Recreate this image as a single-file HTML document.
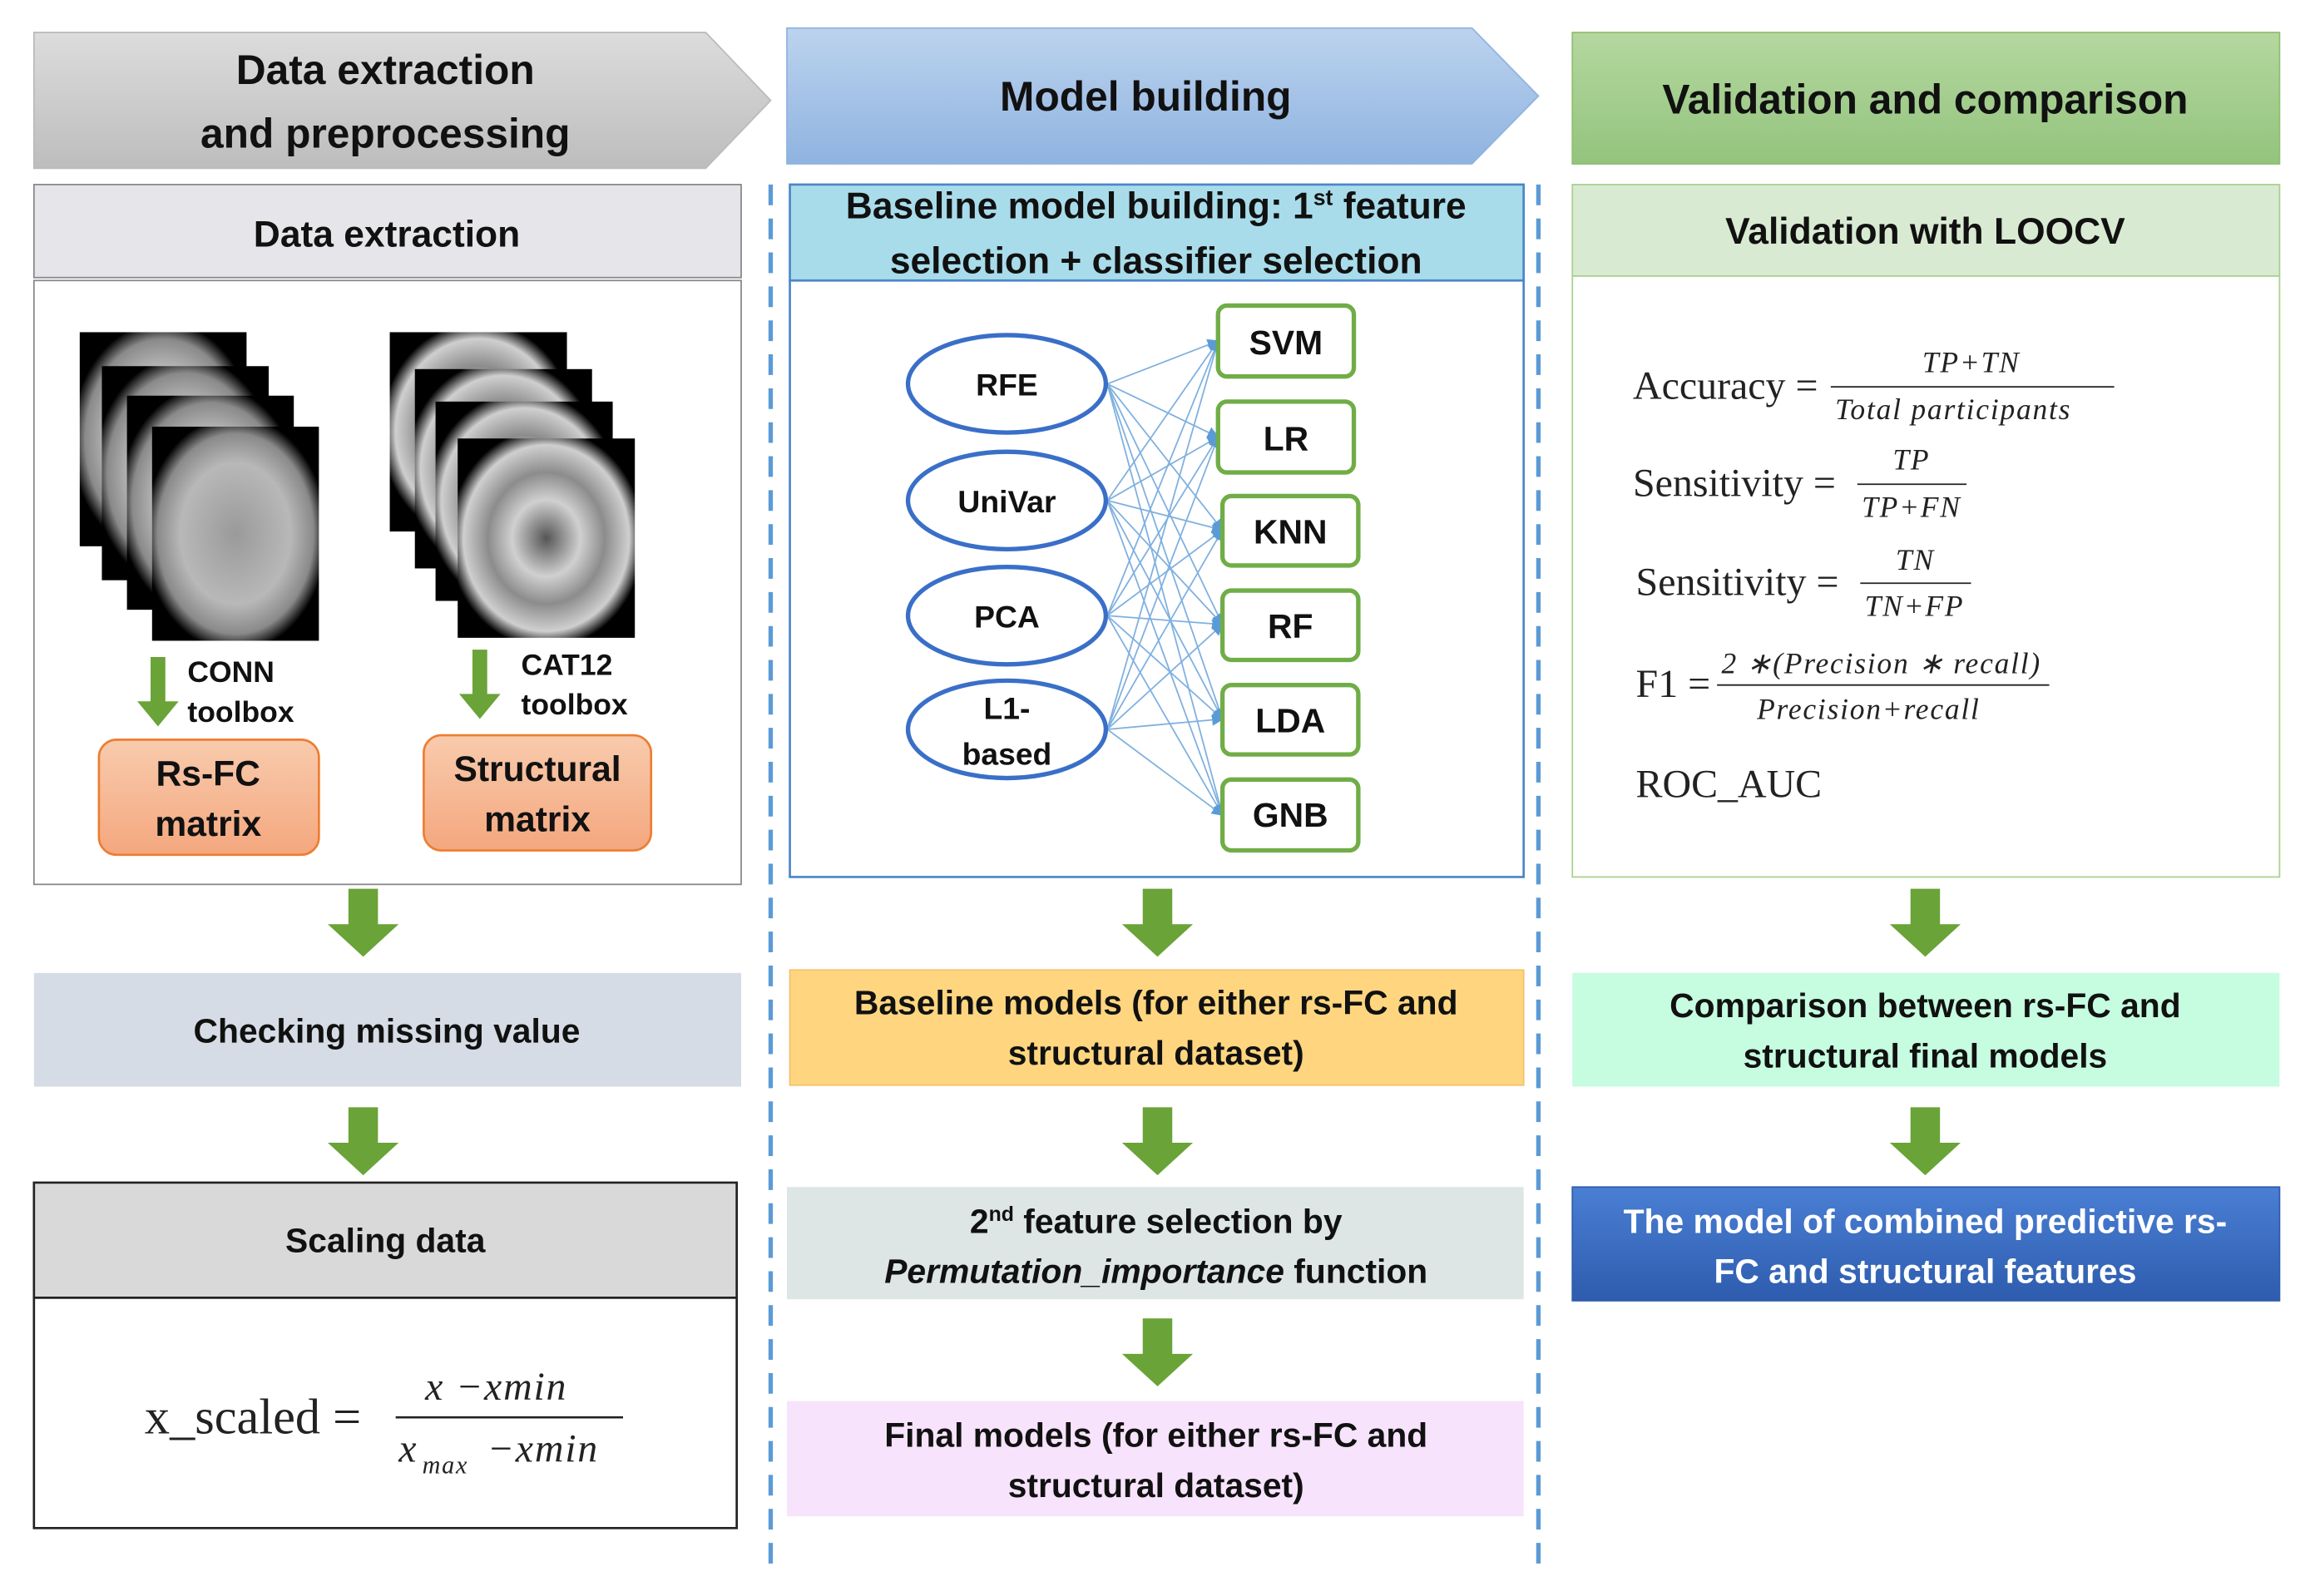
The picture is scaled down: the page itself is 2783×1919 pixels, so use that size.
<!DOCTYPE html>
<html><head><meta charset="utf-8"><style>
html,body{margin:0;padding:0;background:#fff;}
svg{display:block;}
text{font-family:"Liberation Sans",sans-serif;}
.b{font-weight:bold;fill:#111;}
.s{font-family:"Liberation Serif",serif;fill:#222;}
.si{font-family:"Liberation Serif",serif;font-style:italic;fill:#222;letter-spacing:1px;}
</style></head><body>
<svg width="2783" height="1919" viewBox="0 0 1568 1081" preserveAspectRatio="none" xmlns="http://www.w3.org/2000/svg" font-size="23">
<defs>
<linearGradient id="gg" x1="0" y1="0" x2="0" y2="1"><stop offset="0" stop-color="#dcdcdc"/><stop offset="1" stop-color="#bdbdbd"/></linearGradient>
<linearGradient id="bg" x1="0" y1="0" x2="0" y2="1"><stop offset="0" stop-color="#bcd3ee"/><stop offset="1" stop-color="#8fb3e0"/></linearGradient>
<linearGradient id="gr" x1="0" y1="0" x2="0" y2="1"><stop offset="0" stop-color="#b5d7a0"/><stop offset="1" stop-color="#93c47d"/></linearGradient>
<linearGradient id="or" x1="0" y1="0" x2="0" y2="1"><stop offset="0" stop-color="#f8cbad"/><stop offset="1" stop-color="#f4a77e"/></linearGradient>
<linearGradient id="db" x1="0" y1="0" x2="0" y2="1"><stop offset="0" stop-color="#4a7fd4"/><stop offset="1" stop-color="#2e5cae"/></linearGradient>
<radialGradient id="br1" r="0.55"><stop offset="0" stop-color="#9a9a9a"/><stop offset="0.6" stop-color="#b8b8b8"/><stop offset="0.85" stop-color="#8a8a8a"/><stop offset="1" stop-color="#000"/></radialGradient>
<radialGradient id="br2" r="0.55"><stop offset="0" stop-color="#555"/><stop offset="0.35" stop-color="#d0d0d0"/><stop offset="0.6" stop-color="#8c8c8c"/><stop offset="0.85" stop-color="#cfcfcf"/><stop offset="1" stop-color="#000"/></radialGradient>
<marker id="ah" markerWidth="8" markerHeight="8" refX="7" refY="4" orient="auto" markerUnits="userSpaceOnUse"><path d="M0,0 L8,4 L0,8 z" fill="#5b9bd5"/></marker>
<g id="garrow"><path d="M-10,0 h20 v24 h14 l-24,22 l-24,-22 h14 z" fill="#6aa337"/></g>
</defs>

<path d="M23,22 H478 L522,68 L478,114 H23 Z" fill="url(#gg)" stroke="#bbb"/>
<text class="b" x="261" y="57" text-anchor="middle" font-size="28">Data extraction</text>
<text class="b" x="261" y="100" text-anchor="middle" font-size="28">and preprocessing</text>
<path d="M533,19 H997 L1042,65 L997,111 H533 Z" fill="url(#bg)" stroke="#8fb3e0"/>
<text class="b" x="776" y="75" text-anchor="middle" font-size="28">Model building</text>
<rect x="1065" y="22" width="479" height="89" fill="url(#gr)" stroke="#8fbf70"/>
<text class="b" x="1304" y="77" text-anchor="middle" font-size="28">Validation and comparison</text>

<line x1="522" y1="125" x2="522" y2="1068" stroke="#5b9bd5" stroke-width="3" stroke-dasharray="14,9"/>
<line x1="1042" y1="125" x2="1042" y2="1068" stroke="#5b9bd5" stroke-width="3" stroke-dasharray="14,9"/>

<rect x="23" y="125" width="479" height="63" fill="#e6e6ea" stroke="#888"/>
<text class="b" x="262" y="167" text-anchor="middle" font-size="25">Data extraction</text>
<rect x="23" y="190" width="479" height="409" fill="#fff" stroke="#888"/>
<g>
<rect x="54" y="225" width="113" height="145" fill="url(#br1)"/>
<rect x="69" y="248" width="113" height="145" fill="url(#br1)"/>
<rect x="86" y="268" width="113" height="145" fill="url(#br1)"/>
<rect x="103" y="289" width="113" height="145" fill="url(#br1)"/>
<rect x="264" y="225" width="120" height="135" fill="url(#br2)"/>
<rect x="281" y="250" width="120" height="135" fill="url(#br2)"/>
<rect x="295" y="272" width="120" height="135" fill="url(#br2)"/>
<rect x="310" y="297" width="120" height="135" fill="url(#br2)"/>
</g>
<path d="M102,445 h10 v30 h9 l-14,17 l-14,-17 h9 z" fill="#6aa337"/>
<path d="M320,440 h10 v30 h9 l-14,17 l-14,-17 h9 z" fill="#6aa337"/>
<text class="b" x="127" y="462" font-size="20">CONN</text>
<text class="b" x="127" y="489" font-size="20">toolbox</text>
<text class="b" x="353" y="457" font-size="20">CAT12</text>
<text class="b" x="353" y="484" font-size="20">toolbox</text>
<rect x="67" y="501" width="149" height="78" rx="12" fill="url(#or)" stroke="#ed7d31" stroke-width="1.5"/>
<text class="b" x="141" y="532" text-anchor="middle" font-size="24">Rs-FC</text>
<text class="b" x="141" y="566" text-anchor="middle" font-size="24">matrix</text>
<rect x="287" y="498" width="154" height="78" rx="12" fill="url(#or)" stroke="#ed7d31" stroke-width="1.5"/>
<text class="b" x="364" y="529" text-anchor="middle" font-size="24">Structural</text>
<text class="b" x="364" y="563" text-anchor="middle" font-size="24">matrix</text>

<use href="#garrow" x="246" y="602"/>
<rect x="23" y="659" width="479" height="77" fill="#d6dce5"/>
<text class="b" x="262" y="706" text-anchor="middle">Checking missing value</text>
<use href="#garrow" x="246" y="750"/>
<rect x="23" y="801" width="476" height="78" fill="#d9d9d9" stroke="#222" stroke-width="1.5"/>
<text class="b" x="261" y="848" text-anchor="middle">Scaling data</text>
<rect x="23" y="879" width="476" height="156" fill="#fff" stroke="#222" stroke-width="1.5"/>
<text class="s" x="98" y="971" font-size="34">x_scaled =</text>
<line x1="268" y1="960" x2="422" y2="960" stroke="#222" stroke-width="1.5"/>
<text class="si" x="288" y="948" font-size="27">x −xmin</text>
<text class="si" x="270" y="990" font-size="27">x</text>
<text class="si" x="286" y="998" font-size="17">max</text>
<text class="si" x="330" y="990" font-size="27">−xmin</text>

<rect x="535" y="125" width="497" height="65" fill="#a9dcea" stroke="#4a86c8" stroke-width="1.5"/>
<text class="b" x="783" y="148" text-anchor="middle" font-size="25">Baseline model building: 1<tspan font-size="15" dy="-9">st</tspan><tspan dy="9"> feature</tspan></text>
<text class="b" x="783" y="185" text-anchor="middle" font-size="25">selection + classifier selection</text>
<rect x="535" y="190" width="497" height="404" fill="#fff" stroke="#4a86c8" stroke-width="1.5"/>
<g stroke="#7fb0e0" stroke-width="1" marker-end="url(#ah)">
<line x1="750" y1="260" x2="825" y2="231"/><line x1="750" y1="260" x2="825" y2="296"/><line x1="750" y1="260" x2="828" y2="359"/><line x1="750" y1="260" x2="828" y2="423"/><line x1="750" y1="260" x2="828" y2="487"/><line x1="750" y1="260" x2="828" y2="552"/>
<line x1="750" y1="339" x2="825" y2="231"/><line x1="750" y1="339" x2="825" y2="296"/><line x1="750" y1="339" x2="828" y2="359"/><line x1="750" y1="339" x2="828" y2="423"/><line x1="750" y1="339" x2="828" y2="487"/><line x1="750" y1="339" x2="828" y2="552"/>
<line x1="750" y1="417" x2="825" y2="231"/><line x1="750" y1="417" x2="825" y2="296"/><line x1="750" y1="417" x2="828" y2="359"/><line x1="750" y1="417" x2="828" y2="423"/><line x1="750" y1="417" x2="828" y2="487"/><line x1="750" y1="417" x2="828" y2="552"/>
<line x1="750" y1="494" x2="825" y2="231"/><line x1="750" y1="494" x2="825" y2="296"/><line x1="750" y1="494" x2="828" y2="359"/><line x1="750" y1="494" x2="828" y2="423"/><line x1="750" y1="494" x2="828" y2="487"/><line x1="750" y1="494" x2="828" y2="552"/>
</g>
<g fill="#fff" stroke="#3a6fc8" stroke-width="3">
<ellipse cx="682" cy="260" rx="67" ry="33"/><ellipse cx="682" cy="339" rx="67" ry="33"/><ellipse cx="682" cy="417" rx="67" ry="33"/><ellipse cx="682" cy="494" rx="67" ry="33"/>
</g>
<text class="b" x="682" y="268" text-anchor="middle" font-size="21">RFE</text>
<text class="b" x="682" y="347" text-anchor="middle" font-size="21">UniVar</text>
<text class="b" x="682" y="425" text-anchor="middle" font-size="21">PCA</text>
<text class="b" x="682" y="487" text-anchor="middle" font-size="21">L1-</text>
<text class="b" x="682" y="518" text-anchor="middle" font-size="21">based</text>
<g fill="#fff" stroke="#70ad47" stroke-width="3">
<rect x="825" y="207" width="92" height="48" rx="6"/><rect x="825" y="272" width="92" height="48" rx="6"/><rect x="828" y="336" width="92" height="47" rx="6"/><rect x="828" y="400" width="92" height="47" rx="6"/><rect x="828" y="464" width="92" height="47" rx="6"/><rect x="828" y="528" width="92" height="48" rx="6"/>
</g>
<text class="b" x="871" y="240" text-anchor="middle">SVM</text>
<text class="b" x="871" y="305" text-anchor="middle">LR</text>
<text class="b" x="874" y="368" text-anchor="middle">KNN</text>
<text class="b" x="874" y="432" text-anchor="middle">RF</text>
<text class="b" x="874" y="496" text-anchor="middle">LDA</text>
<text class="b" x="874" y="560" text-anchor="middle">GNB</text>

<use href="#garrow" x="784" y="602"/>
<rect x="535" y="657" width="497" height="78" fill="#ffd67f" stroke="#f4c06a"/>
<text class="b" x="783" y="687" text-anchor="middle">Baseline models (for either rs-FC and</text>
<text class="b" x="783" y="721" text-anchor="middle">structural dataset)</text>
<use href="#garrow" x="784" y="750"/>
<rect x="533" y="804" width="499" height="76" fill="#dde5e5"/>
<text class="b" x="783" y="835" text-anchor="middle">2<tspan font-size="14" dy="-8">nd</tspan><tspan dy="8"> feature selection by</tspan></text>
<text class="b" x="783" y="869" text-anchor="middle"><tspan font-style="italic">Permutation_importance</tspan> function</text>
<use href="#garrow" x="784" y="893"/>
<rect x="533" y="949" width="499" height="78" fill="#f7e3fb"/>
<text class="b" x="783" y="980" text-anchor="middle">Final models (for either rs-FC and</text>
<text class="b" x="783" y="1014" text-anchor="middle">structural dataset)</text>

<rect x="1065" y="125" width="479" height="62" fill="#d9ead3" stroke="#a9d18e"/>
<text class="b" x="1304" y="165" text-anchor="middle" font-size="25">Validation with LOOCV</text>
<rect x="1065" y="187" width="479" height="407" fill="#fff" stroke="#a9d18e"/>
<text class="s" x="1106" y="270" font-size="27">Accuracy =</text>
<line x1="1240" y1="262" x2="1432" y2="262" stroke="#222"/>
<text class="si" x="1302" y="252" font-size="20">TP+TN</text>
<text class="si" x="1243" y="284" font-size="20">Total participants</text>
<text class="s" x="1106" y="336" font-size="27">Sensitivity =</text>
<line x1="1258" y1="328" x2="1332" y2="328" stroke="#222"/>
<text class="si" x="1282" y="318" font-size="20">TP</text>
<text class="si" x="1261" y="350" font-size="20">TP+FN</text>
<text class="s" x="1108" y="403" font-size="27">Sensitivity =</text>
<line x1="1260" y1="395" x2="1335" y2="395" stroke="#222"/>
<text class="si" x="1284" y="386" font-size="20">TN</text>
<text class="si" x="1263" y="417" font-size="20">TN+FP</text>
<text class="s" x="1108" y="472" font-size="27">F1 =</text>
<line x1="1163" y1="464" x2="1388" y2="464" stroke="#222"/>
<text class="si" x="1166" y="456" font-size="20">2 ∗(Precision ∗ recall)</text>
<text class="si" x="1190" y="487" font-size="20">Precision+recall</text>
<text class="s" x="1108" y="540" font-size="27">ROC_AUC</text>

<use href="#garrow" x="1304" y="602"/>
<rect x="1065" y="659" width="479" height="77" fill="#c6fce0"/>
<text class="b" x="1304" y="689" text-anchor="middle">Comparison between rs-FC and</text>
<text class="b" x="1304" y="723" text-anchor="middle">structural final models</text>
<use href="#garrow" x="1304" y="750"/>
<rect x="1065" y="804" width="479" height="77" fill="url(#db)" stroke="#2e5cae"/>
<text class="b" x="1304" y="835" text-anchor="middle" style="fill:#fff">The model of combined predictive rs-</text>
<text class="b" x="1304" y="869" text-anchor="middle" style="fill:#fff">FC and structural features</text>
</svg>
</body></html>
